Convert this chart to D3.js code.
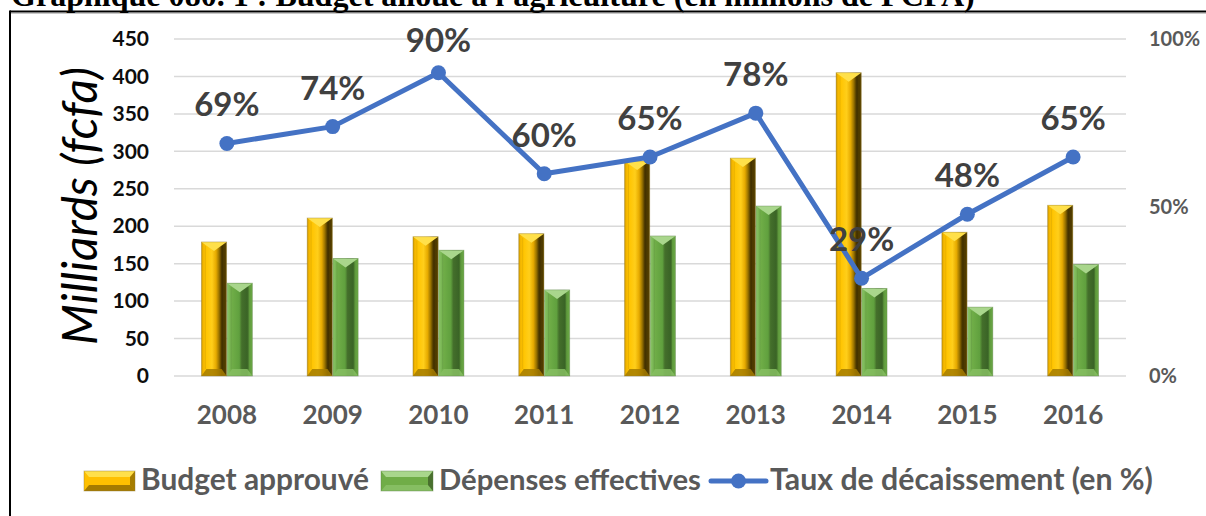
<!DOCTYPE html>
<html>
<head>
<meta charset="utf-8">
<script src="https://cdn.jsdelivr.net/npm/d3@7"></script>
<style>
  body { margin: 0; background: #fff; }
  svg { display: block; }
  text { font-family: Lato, "Open Sans", "DejaVu Sans", sans-serif; }
</style>
</head>
<body>
<svg id="chart" width="1206" height="516"></svg>
<script>
// Budget agricole : budget approuvé vs dépenses effectives (milliards FCFA) et taux de décaissement
const years = ["2008", "2009", "2010", "2011", "2012", "2013", "2014", "2015", "2016"];
const budget = [179, 211, 186, 190, 287, 291, 405, 192, 228];
const depenses = [124, 157, 168, 115, 187, 227, 117, 92, 149];
const taux = [69, 74, 90, 60, 65, 78, 29, 48, 65];
const leftTicks = [0, 50, 100, 150, 200, 250, 300, 350, 400, 450];
const rightTicks = [0, 50, 100];
const seriesNames = ["Budget approuvé", "Dépenses effectives", "Taux de décaissement (en %)"];
const titleText = "Graphique 080. 1 : Budget alloué à l'agriculture (en millions de FCFA)";
const yTitle = "Milliards (fcfa)";

const svg = d3.select("#chart");
const W = 1206, H = 516;
const plot = { left: 174, right: 1126, top: 39, bottom: 376 };

function fitWidth(sel, target) {
  const len = sel.node().getComputedTextLength();
  const fs = parseFloat(sel.attr("font-size"));
  sel.attr("font-size", (fs * target / len).toFixed(2));
}

// gradients for the bevelled bars
const defs = svg.append("defs");
function hGrad(id, stops) {
  const g = defs.append("linearGradient").attr("id", id)
    .attr("x1", 0).attr("x2", 1).attr("y1", 0).attr("y2", 0);
  stops.forEach(([o, c]) => g.append("stop").attr("offset", o).attr("stop-color", c));
}
hGrad("goldGrad", [[0, "#C89400"], [0.07, "#F2B500"], [0.18, "#FFC400"], [0.42, "#FFCE1A"],
  [0.58, "#E6AA00"], [0.7, "#9A7300"], [0.8, "#4A3700"], [0.94, "#4F3B00"], [1, "#6B5200"]]);
hGrad("greenGrad", [[0, "#8DC46B"], [0.1, "#7BB856"], [0.2, "#6FAD47"], [0.48, "#60A03E"],
  [0.58, "#446F2B"], [0.8, "#3A6426"], [0.86, "#5C963B"], [1, "#6CAA46"]]);

const palettes = {
  budget: { grad: "url(#goldGrad)", top: "#FFE04A", bottom: "#A57B00", edge: "#8F7A3A", main: "#FFC000" },
  dep: { grad: "url(#greenGrad)", top: "#A9D68C", bottom: "#86BE62", edge: "#5E7F4A", main: "#70AD47" }
};

// frame and title (the title sits above the frame's top rule)
svg.append("rect").attr("x", 0).attr("y", 0).attr("width", W).attr("height", H).attr("fill", "#fff");
const title = svg.append("text").attr("x", 11).attr("y", 6)
  .attr("font-weight", "bold").attr("font-size", 22).attr("fill", "#000")
  .style("font-family", "'Liberation Serif', 'Times New Roman', serif")
  .text(titleText);
fitWidth(title, 964);
svg.append("line").attr("x1", 10).attr("x2", W).attr("y1", 11.5).attr("y2", 11.5)
  .attr("stroke", "#000").attr("stroke-width", 2);
svg.append("line").attr("x1", 11).attr("x2", W).attr("y1", 13.5).attr("y2", 13.5)
  .attr("stroke", "#c8c8c8").attr("stroke-width", 1);
svg.append("line").attr("x1", 10).attr("x2", 10).attr("y1", 10.5).attr("y2", H)
  .attr("stroke", "#000").attr("stroke-width", 2);

// scales
const x0 = d3.scaleBand().domain(years).range([plot.left, plot.right])
  .paddingInner(0.518).paddingOuter(0.259);
const x1 = d3.scaleBand().domain(["budget", "dep"]).range([0, x0.bandwidth()]).paddingInner(0.02);
const yL = d3.scaleLinear().domain([0, 450]).range([plot.bottom, plot.top]);
const yR = d3.scaleLinear().domain([0, 100]).range([plot.bottom, plot.top]);

// gridlines
svg.append("g").selectAll("line").data(leftTicks).join("line")
  .attr("x1", plot.left).attr("x2", plot.right)
  .attr("y1", d => yL(d)).attr("y2", d => yL(d))
  .attr("stroke", "#d9d9d9").attr("stroke-width", 1.5);

// left axis
const axL = svg.append("g").attr("transform", `translate(${plot.left},0)`)
  .call(d3.axisLeft(yL).tickValues(leftTicks).tickSize(0).tickPadding(25));
axL.select(".domain").remove();
axL.selectAll("text").attr("font-size", 21).attr("font-weight", "bold").attr("fill", "#0d0d0d")
  .style("font-family", "Lato, 'Open Sans', sans-serif");

// right axis
const axR = svg.append("g").attr("transform", `translate(${plot.right},0)`)
  .call(d3.axisRight(yR).tickValues(rightTicks).tickFormat(d => d + "%").tickSize(0).tickPadding(23));
axR.select(".domain").remove();
axR.selectAll("text").attr("font-size", 20).attr("font-weight", "bold").attr("fill", "#595959")
  .style("font-family", "Lato, 'Open Sans', sans-serif");

// x axis labels
const axX = svg.append("g").attr("transform", `translate(0,${plot.bottom})`)
  .call(d3.axisBottom(x0).tickSize(0).tickPadding(30));
axX.select(".domain").remove();
axX.selectAll("text").attr("font-size", 26).attr("font-weight", "bold").attr("fill", "#595959")
  .style("font-family", "Lato, 'Open Sans', sans-serif");

// y axis title
const yt = svg.append("text")
  .attr("transform", "translate(78,206) rotate(-90)")
  .attr("text-anchor", "middle").attr("dominant-baseline", "central")
  .attr("font-style", "italic").attr("font-size", 40).attr("fill", "#000")
  .text(yTitle);
fitWidth(yt, 278);

// bevelled bar
function bevelBar(g, x, y, w, h, p) {
  g.append("rect").attr("x", x).attr("y", y).attr("width", w).attr("height", h).attr("fill", p.grad);
  const d = Math.min(7, h / 2);
  g.append("path")
    .attr("d", `M${x},${y + h}L${x + w},${y + h}L${x + w - 5},${y + h - d}L${x + 5},${y + h - d}Z`)
    .attr("fill", p.bottom).attr("opacity", 0.85);
  const t = Math.min(9, h / 2);
  g.append("path")
    .attr("d", `M${x},${y}L${x + w},${y}L${x + w / 2},${y + t}Z`)
    .attr("fill", p.top);
  g.append("line").attr("x1", x + 4).attr("x2", x + 4).attr("y1", y + 4).attr("y2", y + h - d)
    .attr("stroke", "#000").attr("stroke-opacity", 0.08);
  g.append("line").attr("x1", x + w - 4).attr("x2", x + w - 4).attr("y1", y + 4).attr("y2", y + h - d)
    .attr("stroke", "#000").attr("stroke-opacity", 0.12);
  g.append("rect").attr("x", x).attr("y", y).attr("width", w).attr("height", h)
    .attr("fill", "none").attr("stroke", p.edge).attr("stroke-opacity", 0.45).attr("stroke-width", 0.8);
}

const barsG = svg.append("g");
years.forEach((yr, i) => {
  const gx = x0(yr);
  [["budget", budget[i]], ["dep", depenses[i]]].forEach(([k, v]) => {
    bevelBar(barsG, gx + x1(k), yL(v), x1.bandwidth(), yL(0) - yL(v), palettes[k]);
  });
});

// disbursement rate line
const cx = yr => x0(yr) + x0.bandwidth() / 2;
const line = d3.line().x((d, i) => cx(years[i])).y(d => yR(d));
svg.append("path").datum(taux).attr("d", line)
  .attr("fill", "none").attr("stroke", "#4472C4").attr("stroke-width", 5)
  .attr("stroke-linejoin", "round").attr("stroke-linecap", "round");
svg.append("g").selectAll("circle").data(taux).join("circle")
  .attr("cx", (d, i) => cx(years[i])).attr("cy", d => yR(d)).attr("r", 7.5)
  .attr("fill", "#4472C4");

// data labels, kept inside the plot area
svg.append("g").selectAll("text").data(taux).join("text")
  .attr("x", (d, i) => cx(years[i]))
  .attr("y", d => Math.max(yR(d) - 27, 52))
  .attr("text-anchor", "middle").attr("font-size", 33).attr("font-weight", "bold")
  .attr("fill", "#404040")
  .text(d => d + "%");

// legend
const lg = svg.append("g");
const legY = 481;
function legendSwatch(x, w, p) {
  const y = legY - 10, h = 20;
  lg.append("rect").attr("x", x).attr("y", y).attr("width", w).attr("height", h).attr("fill", p.main);
  lg.append("path").attr("d", `M${x},${y}L${x + w},${y}L${x + w - 5},${y + 6}L${x + 5},${y + 6}Z`)
    .attr("fill", p.top);
  lg.append("path").attr("d", `M${x},${y + h}L${x + w},${y + h}L${x + w - 5},${y + h - 6}L${x + 5},${y + h - 6}Z`)
    .attr("fill", p.bottom);
  lg.append("path").attr("d", `M${x + w},${y}L${x + w},${y + h}L${x + w - 5},${y + h - 6}L${x + w - 5},${y + 6}Z`)
    .attr("fill", "#000").attr("opacity", 0.35);
  lg.append("rect").attr("x", x).attr("y", y).attr("width", w).attr("height", h)
    .attr("fill", "none").attr("stroke", p.edge).attr("stroke-opacity", 0.5).attr("stroke-width", 0.8);
}
function legendText(x, txt, width) {
  const t = lg.append("text").attr("x", x).attr("y", legY + 9)
    .attr("font-size", 26).attr("font-weight", "bold").attr("fill", "#595959").text(txt);
  fitWidth(t, width);
}
legendSwatch(84, 51, palettes.budget);
legendText(141, seriesNames[0], 228);
legendSwatch(381, 52, palettes.dep);
legendText(439, seriesNames[1], 262);
lg.append("line").attr("x1", 711).attr("x2", 766).attr("y1", legY).attr("y2", legY)
  .attr("stroke", "#4472C4").attr("stroke-width", 5).attr("stroke-linecap", "round");
lg.append("circle").attr("cx", 738.5).attr("cy", legY).attr("r", 7.5).attr("fill", "#4472C4");
legendText(770, seriesNames[2], 383);
</script>
</body>
</html>
